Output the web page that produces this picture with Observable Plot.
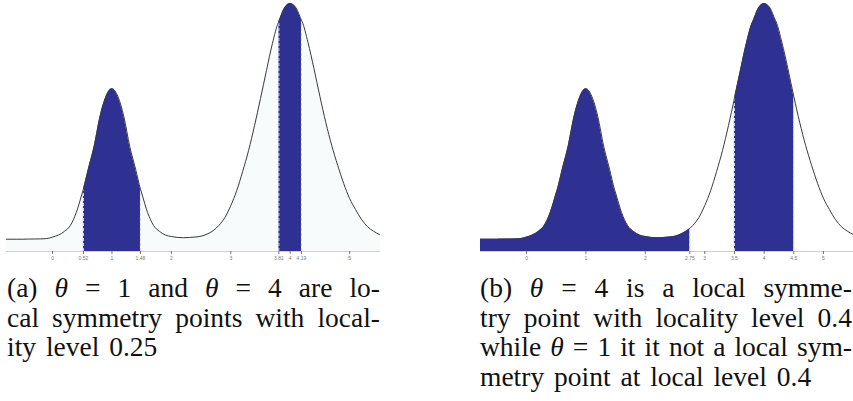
<!DOCTYPE html>
<html><head><meta charset="utf-8">
<script src="https://cdn.jsdelivr.net/npm/d3@7"></script>
<script src="https://cdn.jsdelivr.net/npm/@observablehq/plot@0.6"></script>
<style>
body{margin:0;background:#fff;width:853px;height:401px;overflow:hidden;position:relative;}
.panel{position:absolute;top:0;}
.cap{position:absolute;top:273px;font-family:"Liberation Serif","Times New Roman","DejaVu Serif",serif;font-size:27.5px;line-height:29.5px;color:#111;}
.j{text-align:justify;text-align-last:justify;}
.l{word-spacing:3px;white-space:nowrap;}
</style>
</head><body>
<div id="pa" class="panel" style="left:0px"></div>
<div id="pb" class="panel" style="left:474px"></div>
<div class="cap" style="left:7px;width:373px">
  <div class="j">(a) <i>θ</i> = 1 and <i>θ</i> = 4 are lo-</div>
  <div class="j">cal symmetry points with local-</div>
  <div class="l">ity level 0.25</div>
</div>
<div class="cap" style="left:480px;width:372px">
  <div class="j">(b) <i>θ</i> = 4 is a local symme-</div>
  <div class="j">try point with locality level 0.4</div>
  <div class="j">while <i>θ</i> = 1 it it not a local sym-</div>
  <div class="l">metry point at local level 0.4</div>
</div>
<script>
// density curve (same curve in both panels)
const theta = [-0.8,-0.7,-0.6,-0.5,-0.4,-0.3,-0.2,-0.1,0,0.1,0.2,0.3,0.4,0.5,0.52,0.6,0.7,0.8,0.9,1.0,
  1.1,1.2,1.3,1.4,1.48,1.5,1.6,1.7,1.8,1.9,2.0,2.1,2.2,2.3,2.4,2.5,2.6,2.7,2.75,2.8,2.9,3.0,
  3.1,3.2,3.3,3.4,3.5,3.6,3.7,3.8,3.81,3.9,4.0,4.1,4.19,4.2,4.3,4.4,4.5,4.6,4.7,4.8,4.9,5.0,
  5.1,5.2,5.3,5.4,5.5,5.6];
const dens = [0.001,0.001,0.001,0.001,0.0015,0.0017,0.002,0.003,0.008,0.015,0.027,0.047,0.09,0.155,0.168,0.233,0.31,0.41,0.477,0.503,
  0.477,0.41,0.31,0.233,0.168,0.155,0.09,0.047,0.027,0.015,0.010,0.007,0.006,0.0067,0.0083,0.011,0.018,0.029,0.037,0.047,0.073,0.113,
  0.163,0.227,0.297,0.38,0.47,0.563,0.653,0.723,0.727,0.77,0.787,0.772,0.731,0.727,0.657,0.57,0.477,0.39,0.313,0.247,0.187,0.137,
  0.1,0.067,0.043,0.028,0.017,0.01];
// panel (a): shaded intervals and ticks
const aIntervals = [[0.52, 1.48], [3.81, 4.19]];
const aTicks = [0, 0.52, 1, 1.48, 2, 3, 3.81, 4, 4.19, 5];
const aEdges = [0.52, 1.48, 3.81, 4.19];
// panel (b): shaded intervals and ticks
const bIntervals = [[-0.8, 2.75], [3.5, 4.5]];
const bTicks = [0, 1, 2, 2.75, 3, 3.5, 4, 4.5, 5];
const bEdges = [2.75, 3.5, 4.5];

const data = theta.map((x, i) => ({x, y: dens[i]}));
const yLow = -0.04;
const valAt = x => data.find(d => d.x === x).y;

function panel(intervals, ticks, edges, faint, width, mr, xmax) {
  const marks = [];
  if (faint) marks.push(Plot.areaY(data, {x: "x", y1: yLow, y2: "y", fill: "#f8fbfb", curve: "monotone-x", clip: true}));
  for (const [a, b] of intervals) {
    marks.push(Plot.areaY(data.filter(d => d.x >= a && d.x <= b),
      {x: "x", y1: yLow, y2: "y", fill: "#2e3192", curve: "monotone-x", clip: true}));
  }
  marks.push(Plot.ruleX(edges, {x: d => d, y1: yLow, y2: d => valAt(d), stroke: "#d9dcec", strokeWidth: 1, strokeDasharray: "3,2"}));
  marks.push(Plot.lineY(data, {x: "x", y: "y", stroke: "#3a3a3a", strokeWidth: 1, curve: "monotone-x", clip: true}));
  marks.push(Plot.ruleY([yLow], {stroke: "#cfcfcf", strokeWidth: 1}));
  marks.push(Plot.axisX(ticks, {tickSize: 3, tickPadding: 1.5, fontSize: 5, color: "#777", label: null, tickFormat: d => String(d)}));
  return Plot.plot({
    width, height: 264, marginTop: 0, marginBottom: 13, marginLeft: 6, marginRight: mr,
    x: {domain: [-0.775, xmax], label: null},
    y: {domain: [yLow, 0.797], axis: null},
    style: {background: "transparent", fontFamily: "Liberation Sans, sans-serif", overflow: "visible"},
    marks
  });
}
document.getElementById("pa").append(panel(aIntervals, aTicks, aEdges, true, 386, 6, 5.52));
document.getElementById("pb").append(panel(bIntervals, bTicks, bEdges, false, 379, 0, 5.505));
</script>
</body></html>
